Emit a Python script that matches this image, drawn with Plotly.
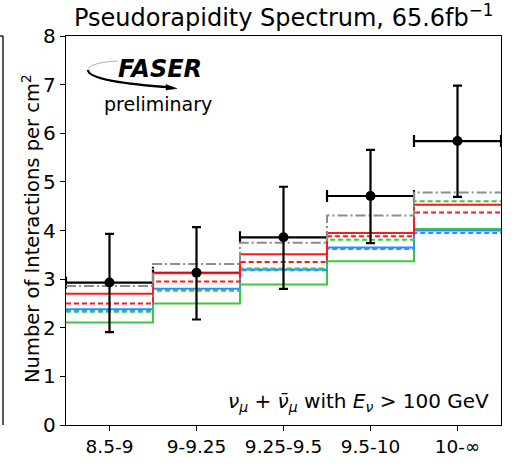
import plotly.graph_objects as go

# ---------------- data ----------------
bins = ["8.5-9", "9-9.25", "9.25-9.5", "9.5-10", "10-∞"]
data_y = [2.93, 3.13, 3.86, 4.71, 5.84]
data_err_up = [1.00, 0.94, 1.04, 0.95, 1.14]
data_err_dn = [1.02, 0.96, 1.06, 0.97, 1.15]

gray_dashdot = [2.86, 3.31, 3.75, 4.31, 4.78]
red_solid = [2.70, 3.12, 3.51, 3.95, 4.53]
red_dashed = [2.50, 2.95, 3.35, 3.88, 4.37]
green_dashed = [2.33, 2.76, 3.22, 3.81, 4.60]
blue_solid = [2.38, 2.80, 3.20, 3.65, 4.00]
blue_dashed = [2.35, 2.78, 3.18, 3.62, 3.95]
green_solid = [2.11, 2.50, 2.89, 3.37, 4.03]

y_ticks = [0, 1, 2, 3, 4, 5, 6, 7, 8]

# ---------------- figure ----------------
W, H = 526, 468
L, R, T, B = 66, 25, 36, 43
FONT = "DejaVu Sans"

idx = list(range(len(bins)))
edges = [i - 0.5 for i in range(len(bins) + 1)]

fig = go.Figure()

# x error bars of data (drawn below the MC steps)
fig.add_trace(go.Scatter(
    x=idx, y=data_y, mode="markers",
    marker=dict(size=1, color="rgba(0,0,0,0)"),
    error_x=dict(type="constant", value=0.5, color="black", thickness=2.2, width=6),
    showlegend=False, hoverinfo="skip"))

RED = "#ff1a1a"
GREEN = "#3cc83c"
BLUE = "#2b8fff"
GRAY = "#8c8c8c"


def step(vals, color, dash):
    fig.add_trace(go.Scatter(
        x=edges, y=vals + [vals[-1]], mode="lines", line_shape="hv",
        line=dict(color=color, width=2, dash=dash),
        showlegend=False, hoverinfo="skip"))


step(green_solid, GREEN, "solid")
step(blue_solid, BLUE, "solid")
step(blue_dashed, BLUE, "5px,3px")
step(green_dashed, GREEN, "5px,3px")
step(red_dashed, RED, "5px,3px")
step(red_solid, RED, "solid")
step(gray_dashdot, GRAY, "10px,3px,2px,3px")

# data points with vertical error bars
fig.add_trace(go.Scatter(
    x=idx, y=data_y, mode="markers",
    marker=dict(size=10, color="black"),
    error_y=dict(type="data", symmetric=False, array=data_err_up,
                 arrayminus=data_err_dn, color="black", thickness=2.2, width=4.5),
    showlegend=False, hoverinfo="skip"))

pw = W - L - R
ph = H - T - B


def px(x):
    return (x - L) / pw


def py(y):
    return (H - B - y) / ph


shapes = []
# FASER logo swoosh
shapes.append(dict(type="path", xref="paper", yref="paper",
                   path=f"M {px(88)},{py(70)} C {px(88)},{py(79)} {px(125)},{py(84)} {px(172)},{py(87.5)}",
                   line=dict(color="black", width=2.2)))
shapes.append(dict(type="path", xref="paper", yref="paper",
                   path=f"M {px(88)},{py(70)} C {px(88)},{py(65)} {px(100)},{py(62)} {px(118)},{py(61)}",
                   line=dict(color="#999999", width=0.8)))
shapes.append(dict(type="path", xref="paper", yref="paper",
                   path=f"M {px(166)},{py(84.5)} L {px(177)},{py(88.5)} L {px(166)},{py(90)} Z",
                   fillcolor="black", line=dict(color="black", width=0.5)))
# fragment of neighbouring panel at the left edge
shapes.append(dict(type="line", xref="paper", yref="paper",
                   x0=px(3), x1=px(3), y0=py(36), y1=py(425),
                   line=dict(color="black", width=1.3)))
shapes.append(dict(type="line", xref="paper", yref="paper",
                   x0=px(0), x1=px(3), y0=py(36), y1=py(36),
                   line=dict(color="black", width=1.3)))

annotations = [
    dict(text="Pseudorapidity Spectrum, 65.6fb<sup>−1</sup>", xref="paper", yref="paper",
         x=0.5, y=py(16), xanchor="center", yanchor="middle", showarrow=False,
         font=dict(family=FONT, size=24, color="black")),
    dict(text="Number of Interactions per cm<sup>2</sup>", xref="paper", yref="paper",
         x=px(31), y=py(229), xanchor="center", yanchor="middle", textangle=-90,
         showarrow=False, font=dict(family=FONT, size=19.5, color="black")),
    dict(text="<b><i>FASER</i></b>", xref="paper", yref="paper",
         x=px(160), y=py(69), xanchor="center", yanchor="middle", showarrow=False,
         font=dict(family=FONT, size=24, color="black")),
    dict(text="preliminary", xref="paper", yref="paper",
         x=px(158), y=py(104), xanchor="center", yanchor="middle", showarrow=False,
         font=dict(family=FONT, size=19, color="black")),
    dict(text="<i>ν</i><sub><i>μ</i></sub> + <i>ν̄</i><sub><i>μ</i></sub> with <i>E</i><sub><i>ν</i></sub> > 100 GeV",
         xref="paper", yref="paper", x=px(491), y=py(402), xanchor="right", yanchor="middle",
         showarrow=False, font=dict(family=FONT, size=20, color="black")),
]

fig.update_layout(
    width=W, height=H,
    margin=dict(l=L, r=R, t=T, b=B, pad=0),
    paper_bgcolor="white", plot_bgcolor="white",
    font=dict(family=FONT, color="black"),
    showlegend=False,
    shapes=shapes, annotations=annotations,
    xaxis=dict(range=[-0.5, 4.5], tickvals=idx, ticktext=bins,
               showline=True, mirror=True, linecolor="black", linewidth=1.3,
               ticks="outside", ticklen=5, tickwidth=1.3, tickcolor="black",
               showgrid=False, zeroline=False, tickfont=dict(size=18.5)),
    yaxis=dict(range=[0, 8], tickvals=y_ticks,
               showline=True, mirror=True, linecolor="black", linewidth=1.3,
               ticks="outside", ticklen=5, tickwidth=1.3, tickcolor="black",
               showgrid=False, zeroline=False, tickfont=dict(size=20)),
)

fig.write_html("out.html", config={"displayModeBar": False},
               post_script="document.body.style.margin='0px';document.body.style.padding='0px';")
